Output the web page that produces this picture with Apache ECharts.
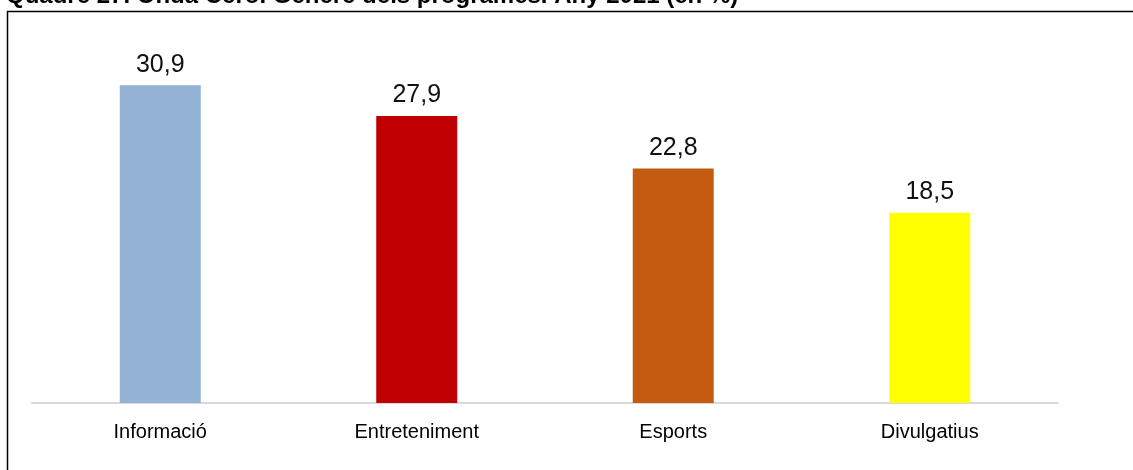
<!DOCTYPE html>
<html><head><meta charset="utf-8">
<script src="https://cdn.jsdelivr.net/npm/echarts@6/dist/echarts.min.js"></script>
<style>html,body{margin:0;padding:0;background:#fff;}#c{width:1133px;height:470px;}</style>
</head><body><div id="c"></div>
<script>
const titleText = 'Quadre 27. Onda Cero. Gènere dels programes. Any 2021 (en %)';
const categories = ['Informació', 'Entreteniment', 'Esports', 'Divulgatius'];
const values = [30.9, 27.9, 22.8, 18.5];
const colors = ['#95B3D7', '#C00000', '#C55A11', '#FFFF00'];

const chart = echarts.init(document.getElementById('c'));
chart.setOption({
  animation: false,
  backgroundColor: '#fff',
  grid: { left: 32, right: 75, top: 43, bottom: 67 },
  xAxis: {
    type: 'category', data: categories,
    axisLine: { lineStyle: { color: '#d9d9d9', width: 2 } },
    axisTick: { show: false },
    axisLabel: { color: '#000', fontFamily: 'Liberation Sans, Arial, sans-serif', fontSize: 20, margin: 19 }
  },
  yAxis: { type: 'value', min: 0, max: 35, show: false, splitLine: { show: false } },
  series: [{
    type: 'bar', barWidth: 81,
    data: values.map((v, i) => ({ value: v, itemStyle: { color: colors[i] } })),
    label: {
      show: true, position: 'top', distance: 8, color: '#111',
      fontFamily: 'Liberation Sans, Arial, sans-serif', fontSize: 25,
      formatter: p => String(p.value).replace('.', ',')
    }
  }],
  graphic: [
    { type: 'text', left: 6, top: -16, style: { text: titleText, font: 'bold 24px "Liberation Sans", Arial, sans-serif', fill: '#000' } },
    { type: 'line', shape: { x1: 7, y1: 11.5, x2: 1133, y2: 11.5 }, style: { stroke: '#000', lineWidth: 1.5 } },
    { type: 'line', shape: { x1: 7.5, y1: 11, x2: 7.5, y2: 470 }, style: { stroke: '#000', lineWidth: 1.5 } }
  ]
});
</script></body></html>
